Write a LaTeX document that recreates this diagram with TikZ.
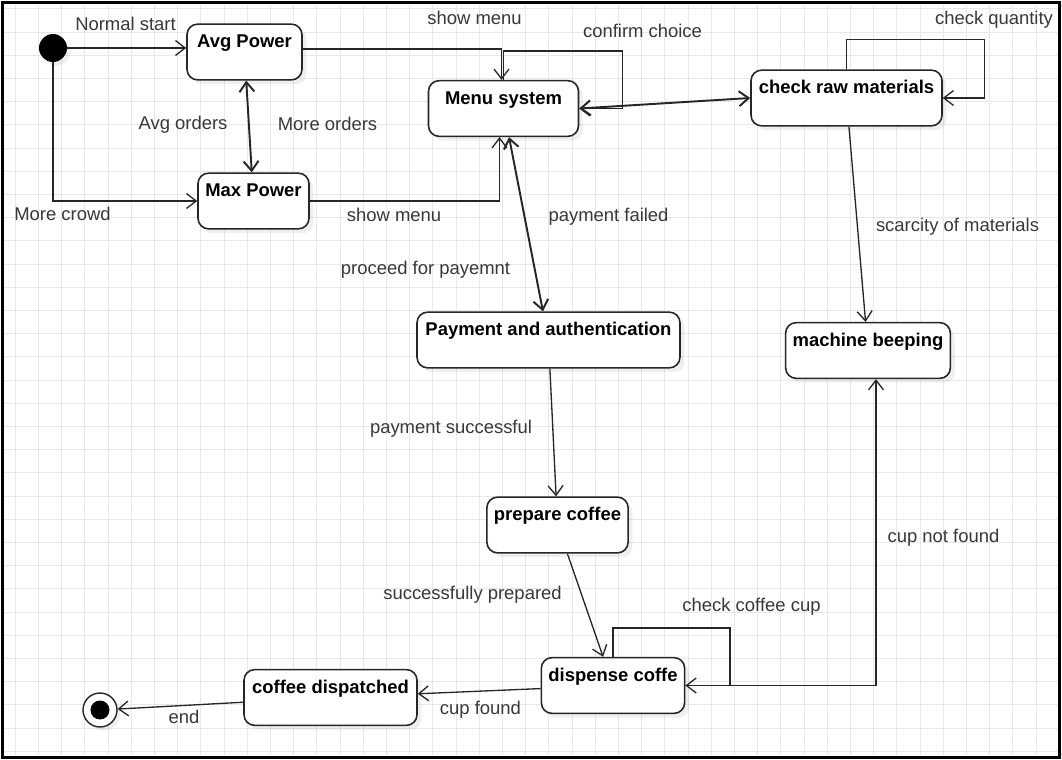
\documentclass[tikz,border=0pt]{standalone}
\usepackage{fontspec}
\setmainfont{Liberation Sans}
\usetikzlibrary{arrows.meta,calc,shadows}
\tikzset{
  stnode/.style = {rectangle, rounded corners=6pt, draw=black!85, line width=0.9pt, fill=white, align=center,
    inner xsep=4pt, inner ysep=5.5pt, text height=8pt, text depth=12.7pt,
    font=\bfseries\fontsize{10.5}{12}\selectfont,
    drop shadow={shadow xshift=2.5pt, shadow yshift=-2.5pt, opacity=0.12}},
  initnode/.style = {circle, fill=black, minimum size=0.56cm, inner sep=0pt,
    drop shadow={shadow xshift=2pt, shadow yshift=-2pt, opacity=0.12}},
  endnode/.style = {circle, draw=black!85, line width=0.8pt, fill=white, minimum size=0.68cm, inner sep=0pt,
    drop shadow={shadow xshift=2pt, shadow yshift=-2pt, opacity=0.12},
    path picture={\fill[black] (path picture bounding box.center) circle (0.19cm);}},
  lbl/.style = {font=\fontsize{10.5}{12}\selectfont, text=black!78, inner sep=1pt},
  trans/.style = {draw=black!85, line width=0.75pt, -{Straight Barb[length=5.5pt,width=8.5pt]}},
  trans2/.style = {trans, line width=1.1pt, {Straight Barb[length=5.5pt,width=8.5pt]}-{Straight Barb[length=5.5pt,width=8.5pt]}},
  gridline/.style = {draw=black!9, line width=0.5pt},
}

\begin{document}
\begin{tikzpicture}[x=0.02cm, y=-0.02cm]
\useasboundingbox (0,0) rectangle (1062,760);
% background grid and frame
\fill[white] (0,0) rectangle (1062,760);
\foreach \gx in {15.3,38.5,...,1058} \draw[gridline] (\gx,4) -- (\gx,756);
\foreach \gy in {8.9,32.1,...,756} \draw[gridline] (4,\gy) -- (1058,\gy);
\draw[line width=1.6pt] (2.5,2.5) rectangle (1059.5,757.5);

% states
\node[initnode] (init) at (53,48) {};
\node[stnode, minimum width=2.3cm] (avg) at (244.5,52) {Avg Power};
\node[stnode, minimum width=2.22cm] (max) at (253.5,201) {Max Power};
\node[stnode, minimum width=3.0cm] (menu) at (503.5,108.5) {Menu system};
\node[stnode, minimum width=3.82cm] (raw) at (846.5,98) {check raw materials};
\node[stnode, minimum width=5.26cm] (pay) at (548.5,340) {Payment and authentication};
\node[stnode, minimum width=3.28cm] (beep) at (868,350.5) {machine beeping};
\node[stnode, minimum width=2.82cm] (prep) at (557.5,525) {prepare coffee};
\node[stnode, minimum width=2.8cm] (disp) at (613,685.5) {dispense coffe};
\node[stnode, minimum width=3.46cm] (dispatched) at (330.5,697.5) {coffee dispatched};
\node[endnode] (fin) at (100,710) {};

% transitions
\draw[trans] (init) -- (init -| avg.west);
\draw[trans] (init) |- (max);
\draw[trans2] (avg) -- (max);
\draw[trans] ($(avg.east)+(0,-3)$) -| ($(menu.north)+(-2,0)$);
\draw[trans] (max.east) -| ($(menu.south)+(-4,0)$);
\draw[trans] (menu.north) -- ++(0,-29) -- ++(119,0) |- (menu.east);
\draw[trans2] (menu.east) -- (raw.west);
\draw[trans] (raw.north) -- ++(0,-30) -- ++(138,0) |- (raw.east);
\draw[trans] (raw) -- (beep);
\draw[trans2] (menu) -- (pay);
\draw[trans] (pay) -- (prep);
\draw[trans] (prep) -- (disp);
\draw[trans] (disp.north) -- ++(0,-29) -- ++(117,0) |- (disp.east);
\draw[trans] (disp.east) -| ($(beep.south)+(8,0)$);
\draw[trans] (disp) -- (dispatched);
\draw[trans] (dispatched) -- (fin);

% labels
\node[lbl] (lnormal) at (125.5,24) {Normal start};
\node[lbl] (lcrowd) at (62.5,214) {More crowd};
\node[lbl] (lavgord) at (183,125) {Avg orders};
\node[lbl] (lmoreord) at (327.5,124) {More orders};
\node[lbl] (lshowtop) at (474.5,18) {show menu};
\node[lbl] (lshowbot) at (394,215) {show menu};
\node[lbl] (lconfirm) at (642.5,31) {confirm choice};
\node[lbl] (lquantity) at (994,20) {check quantity};
\node[lbl] (lscarcity) at (957.5,227) {scarcity of materials};
\node[lbl] (lfailed) at (608.5,217) {payment failed};
\node[lbl] (lproceed) at (425.5,270) {proceed for payemnt};
\node[lbl] (lsuccess) at (451,429) {payment successful};
\node[lbl] (lcupnf) at (943.5,538) {cup not found};
\node[lbl] (lprepared) at (472.5,595) {successfully prepared};
\node[lbl] (lcheckcup) at (751.5,607) {check coffee cup};
\node[lbl] (lcupfound) at (480.5,710) {cup found};
\node[lbl] (lend) at (184,717) {end};
\end{tikzpicture}
\end{document}
